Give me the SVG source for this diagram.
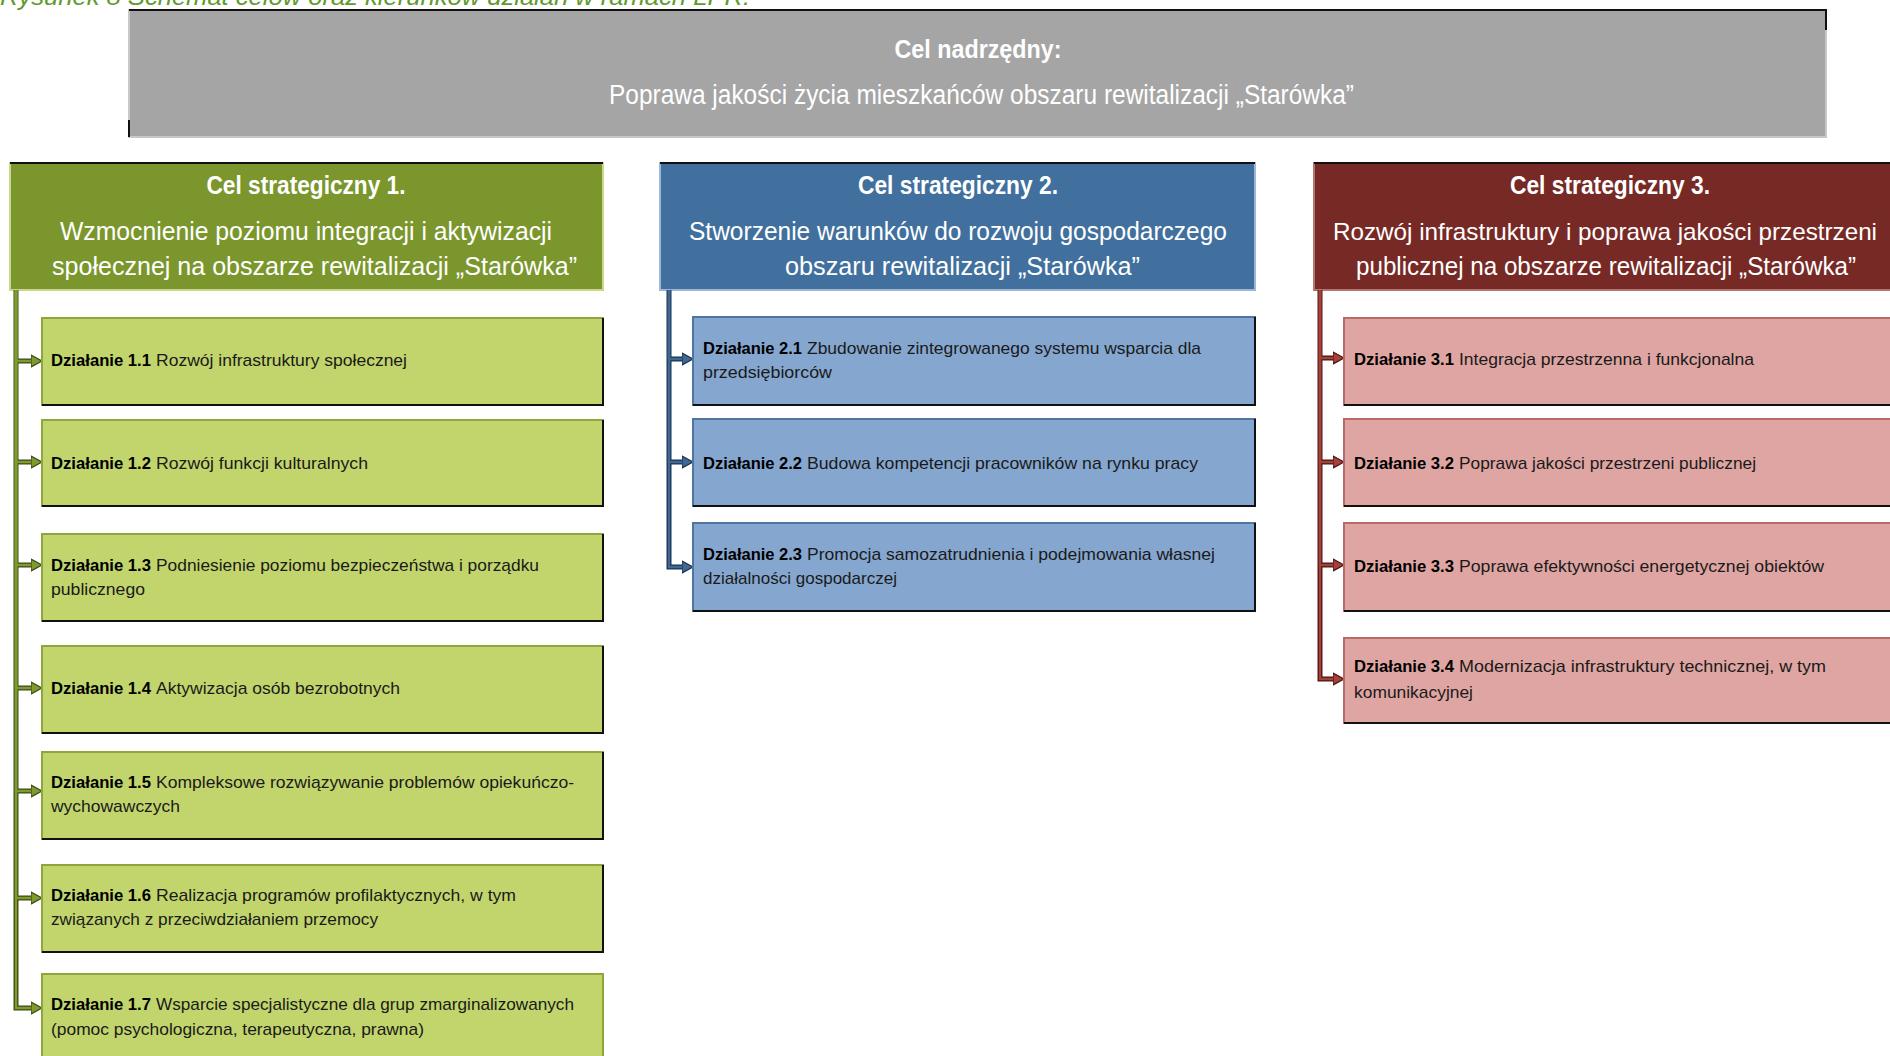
<svg xmlns="http://www.w3.org/2000/svg" width="1890" height="1056" viewBox="0 0 1890 1056">
<style>
text{font-family:"Liberation Sans",Arial,sans-serif}
.cap{font-size:24px;font-style:italic;fill:#5f9a2c}
.ht{font-size:26px;font-weight:bold;fill:#ffffff}
.hs{font-size:25px;fill:#ffffff}
.hn{font-size:24px;fill:#ffffff}
.ts{font-size:27px;fill:#ffffff}
.ct{font-size:17px;fill:#1a1a1a}
.b{font-size:16.8px;font-weight:bold;fill:#000}
.top{fill:#a5a5a5;stroke:#c8c8c8;stroke-width:2}
.h1{fill:#7a962c;stroke:#c9d88a;stroke-width:2}
.h2{fill:#41709e;stroke:#9db8d6;stroke-width:2}
.h3{fill:#772a25;stroke:#b27570;stroke-width:2}
.c1{fill:#c2d56c;stroke:#8ea63c;stroke-width:2}
.c2{fill:#85a7cf;stroke:#4f75a0;stroke-width:2}
.c3{fill:#dfa5a2;stroke:#b86a66;stroke-width:2}
.edge{fill:none;stroke:#111;stroke-width:2}
.o{fill:none;stroke-width:5}
.i{fill:none;stroke-width:2.4}
.o1{stroke:#3c4a12}.i1{stroke:#7f9a30}
.o2{stroke:#1b3350}.i2{stroke:#3f6894}
.o3{stroke:#4a1612}.i3{stroke:#a5403a}
</style>
<defs>
<marker id="a1" markerUnits="userSpaceOnUse" viewBox="0 -8 13 16" refX="0" refY="0" markerWidth="13" markerHeight="16" orient="auto"><path d="M0,-6 L11,0 L0,6 z" fill="#7f9a30" stroke="#3c4a12" stroke-width="1.2"/></marker>
<marker id="a2" markerUnits="userSpaceOnUse" viewBox="0 -8 13 16" refX="0" refY="0" markerWidth="13" markerHeight="16" orient="auto"><path d="M0,-6 L11,0 L0,6 z" fill="#3f6894" stroke="#1b3350" stroke-width="1.2"/></marker>
<marker id="a3" markerUnits="userSpaceOnUse" viewBox="0 -8 13 16" refX="0" refY="0" markerWidth="13" markerHeight="16" orient="auto"><path d="M0,-6 L11,0 L0,6 z" fill="#a5403a" stroke="#4a1612" stroke-width="1.2"/></marker>
</defs>
<rect width="1890" height="1056" fill="#ffffff"/>
<text class="cap" x="0" y="5" textLength="750" lengthAdjust="spacingAndGlyphs">Rysunek 8 Schemat celów oraz kierunków działań w ramach LPR.</text>

<g id="cel-nadrzedny">
<rect class="top" x="129" y="10" width="1697" height="127"/>
<path class="edge" d="M129,10 H1826 V30 M129,120 V137"/>
<text class="ht" x="978" y="58" text-anchor="middle" textLength="167" lengthAdjust="spacingAndGlyphs">Cel nadrzędny:</text>
<text class="ts" x="609" y="104" textLength="745" lengthAdjust="spacingAndGlyphs">Poprawa jakości życia mieszkańców obszaru rewitalizacji „Starówka”</text>
</g>

<g id="cel-1">
<rect class="h1" x="10" y="163" width="593" height="127"/>
<path class="edge" d="M10,163 H603"/>
<text class="ht" x="306" y="194" text-anchor="middle" textLength="199" lengthAdjust="spacingAndGlyphs">Cel strategiczny 1.</text>
<text class="hs" x="306" y="240" text-anchor="middle" textLength="492" lengthAdjust="spacingAndGlyphs">Wzmocnienie poziomu integracji i aktywizacji</text>
<text class="hs" x="52" y="275" textLength="525" lengthAdjust="spacingAndGlyphs">społecznej na obszarze rewitalizacji „Starówka”</text>
</g>
<g id="cel-2">
<rect class="h2" x="660" y="163" width="595" height="127"/>
<path class="edge" d="M660,163 H1255"/>
<text class="ht" x="958" y="194" text-anchor="middle" textLength="200" lengthAdjust="spacingAndGlyphs">Cel strategiczny 2.</text>
<text class="hs" x="958" y="240" text-anchor="middle" textLength="538" lengthAdjust="spacingAndGlyphs">Stworzenie warunków do rozwoju gospodarczego</text>
<text class="hs" x="785" y="275" textLength="355" lengthAdjust="spacingAndGlyphs">obszaru rewitalizacji „Starówka”</text>
</g>
<g id="cel-3">
<rect class="h3" x="1314" y="163" width="600" height="127"/>
<path class="edge" d="M1314,163 H1890"/>
<text class="ht" x="1610" y="194" text-anchor="middle" textLength="200" lengthAdjust="spacingAndGlyphs">Cel strategiczny 3.</text>
<text class="hn" x="1333" y="240" textLength="544" lengthAdjust="spacingAndGlyphs">Rozwój infrastruktury i poprawa jakości przestrzeni</text>
<text class="hs" x="1356" y="275" textLength="500" lengthAdjust="spacingAndGlyphs">publicznej na obszarze rewitalizacji „Starówka”</text>
</g>

<g id="connectors">
<path class="o o1" d="M16,290 V1008 H31 M16,361 H31 M16,462 H31 M16,565 H31 M16,688 H31 M16,791 H31 M16,898 H31"/>
<path class="i i1" d="M16,290 V361 H31" marker-end="url(#a1)"/>
<path class="i i1" d="M16,290 V462 H31" marker-end="url(#a1)"/>
<path class="i i1" d="M16,290 V565 H31" marker-end="url(#a1)"/>
<path class="i i1" d="M16,290 V688 H31" marker-end="url(#a1)"/>
<path class="i i1" d="M16,290 V791 H31" marker-end="url(#a1)"/>
<path class="i i1" d="M16,290 V898 H31" marker-end="url(#a1)"/>
<path class="i i1" d="M16,290 V1008 H31" marker-end="url(#a1)"/>
<path class="o o2" d="M669,290 V567 H682 M669,359 H682 M669,462 H682"/>
<path class="i i2" d="M669,290 V359 H682" marker-end="url(#a2)"/>
<path class="i i2" d="M669,290 V462 H682" marker-end="url(#a2)"/>
<path class="i i2" d="M669,290 V567 H682" marker-end="url(#a2)"/>
<path class="o o3" d="M1320,290 V679 H1333 M1320,358 H1333 M1320,462 H1333 M1320,565 H1333"/>
<path class="i i3" d="M1320,290 V358 H1333" marker-end="url(#a3)"/>
<path class="i i3" d="M1320,290 V462 H1333" marker-end="url(#a3)"/>
<path class="i i3" d="M1320,290 V565 H1333" marker-end="url(#a3)"/>
<path class="i i3" d="M1320,290 V679 H1333" marker-end="url(#a3)"/>
</g>

<g id="dzialanie-1-1"><rect class="c1" x="42" y="318" width="561" height="87"/><path class="edge" d="M42,405 H603 V318"/>
<text class="b" x="51" y="366" textLength="100" lengthAdjust="spacingAndGlyphs">Działanie 1.1</text>
<text class="ct" x="156" y="366" textLength="251" lengthAdjust="spacingAndGlyphs">Rozwój infrastruktury społecznej</text></g>
<g id="dzialanie-1-2"><rect class="c1" x="42" y="420" width="561" height="86"/><path class="edge" d="M42,506 H603 V420"/>
<text class="b" x="51" y="469" textLength="100" lengthAdjust="spacingAndGlyphs">Działanie 1.2</text>
<text class="ct" x="156" y="469" textLength="212" lengthAdjust="spacingAndGlyphs">Rozwój funkcji kulturalnych</text></g>
<g id="dzialanie-1-3"><rect class="c1" x="42" y="534" width="561" height="87"/><path class="edge" d="M42,621 H603 V534"/>
<text class="b" x="51" y="571" textLength="100" lengthAdjust="spacingAndGlyphs">Działanie 1.3</text>
<text class="ct" x="156" y="571" textLength="383" lengthAdjust="spacingAndGlyphs">Podniesienie poziomu bezpieczeństwa i porządku</text>
<text class="ct" x="51" y="595" textLength="94" lengthAdjust="spacingAndGlyphs">publicznego</text></g>
<g id="dzialanie-1-4"><rect class="c1" x="42" y="646" width="561" height="87"/><path class="edge" d="M42,733 H603 V646"/>
<text class="b" x="51" y="694" textLength="100" lengthAdjust="spacingAndGlyphs">Działanie 1.4</text>
<text class="ct" x="156" y="694" textLength="244" lengthAdjust="spacingAndGlyphs">Aktywizacja osób bezrobotnych</text></g>
<g id="dzialanie-1-5"><rect class="c1" x="42" y="752" width="561" height="87"/><path class="edge" d="M42,839 H603 V752"/>
<text class="b" x="51" y="788" textLength="100" lengthAdjust="spacingAndGlyphs">Działanie 1.5</text>
<text class="ct" x="156" y="788" textLength="418" lengthAdjust="spacingAndGlyphs">Kompleksowe rozwiązywanie problemów opiekuńczo-</text>
<text class="ct" x="51" y="812" textLength="129" lengthAdjust="spacingAndGlyphs">wychowawczych</text></g>
<g id="dzialanie-1-6"><rect class="c1" x="42" y="865" width="561" height="87"/><path class="edge" d="M42,952 H603 V865"/>
<text class="b" x="51" y="901" textLength="100" lengthAdjust="spacingAndGlyphs">Działanie 1.6</text>
<text class="ct" x="156" y="901" textLength="360" lengthAdjust="spacingAndGlyphs">Realizacja programów profilaktycznych, w tym</text>
<text class="ct" x="51" y="925" textLength="327" lengthAdjust="spacingAndGlyphs">związanych z przeciwdziałaniem przemocy</text></g>
<g id="dzialanie-1-7"><rect class="c1" x="42" y="974" width="561" height="90"/>
<text class="b" x="51" y="1010" textLength="100" lengthAdjust="spacingAndGlyphs">Działanie 1.7</text>
<text class="ct" x="156" y="1010" textLength="418" lengthAdjust="spacingAndGlyphs">Wsparcie specjalistyczne dla grup zmarginalizowanych</text>
<text class="ct" x="51" y="1035" textLength="373" lengthAdjust="spacingAndGlyphs">(pomoc psychologiczna, terapeutyczna, prawna)</text></g>

<g id="dzialanie-2-1"><rect class="c2" x="693" y="317" width="562" height="88"/><path class="edge" d="M693,405 H1255 V317"/>
<text class="b" x="703" y="354" textLength="99" lengthAdjust="spacingAndGlyphs">Działanie 2.1</text>
<text class="ct" x="807" y="354" textLength="394" lengthAdjust="spacingAndGlyphs">Zbudowanie zintegrowanego systemu wsparcia dla</text>
<text class="ct" x="703" y="378" textLength="129" lengthAdjust="spacingAndGlyphs">przedsiębiorców</text></g>
<g id="dzialanie-2-2"><rect class="c2" x="693" y="419" width="562" height="87"/><path class="edge" d="M693,506 H1255 V419"/>
<text class="b" x="703" y="469" textLength="99" lengthAdjust="spacingAndGlyphs">Działanie 2.2</text>
<text class="ct" x="807" y="469" textLength="391" lengthAdjust="spacingAndGlyphs">Budowa kompetencji pracowników na rynku pracy</text></g>
<g id="dzialanie-2-3"><rect class="c2" x="693" y="523" width="562" height="88"/><path class="edge" d="M693,611 H1255 V523"/>
<text class="b" x="703" y="560" textLength="99" lengthAdjust="spacingAndGlyphs">Działanie 2.3</text>
<text class="ct" x="807" y="560" textLength="408" lengthAdjust="spacingAndGlyphs">Promocja samozatrudnienia i podejmowania własnej</text>
<text class="ct" x="703" y="584" textLength="194" lengthAdjust="spacingAndGlyphs">działalności gospodarczej</text></g>

<g id="dzialanie-3-1"><rect class="c3" x="1344" y="318" width="560" height="87"/><path class="edge" d="M1344,405 H1890"/>
<text class="b" x="1354" y="365" textLength="100" lengthAdjust="spacingAndGlyphs">Działanie 3.1</text>
<text class="ct" x="1459" y="365" textLength="295" lengthAdjust="spacingAndGlyphs">Integracja przestrzenna i funkcjonalna</text></g>
<g id="dzialanie-3-2"><rect class="c3" x="1344" y="419" width="560" height="87"/><path class="edge" d="M1344,506 H1890"/>
<text class="b" x="1354" y="469" textLength="100" lengthAdjust="spacingAndGlyphs">Działanie 3.2</text>
<text class="ct" x="1459" y="469" textLength="297" lengthAdjust="spacingAndGlyphs">Poprawa jakości przestrzeni publicznej</text></g>
<g id="dzialanie-3-3"><rect class="c3" x="1344" y="523" width="560" height="88"/><path class="edge" d="M1344,611 H1890"/>
<text class="b" x="1354" y="572" textLength="100" lengthAdjust="spacingAndGlyphs">Działanie 3.3</text>
<text class="ct" x="1459" y="572" textLength="365" lengthAdjust="spacingAndGlyphs">Poprawa efektywności energetycznej obiektów</text></g>
<g id="dzialanie-3-4"><rect class="c3" x="1344" y="638" width="560" height="85"/><path class="edge" d="M1344,723 H1890"/>
<text class="b" x="1354" y="672" textLength="100" lengthAdjust="spacingAndGlyphs">Działanie 3.4</text>
<text class="ct" x="1459" y="672" textLength="367" lengthAdjust="spacingAndGlyphs">Modernizacja infrastruktury technicznej, w tym</text>
<text class="ct" x="1354" y="698" textLength="119" lengthAdjust="spacingAndGlyphs">komunikacyjnej</text></g>
</svg>
